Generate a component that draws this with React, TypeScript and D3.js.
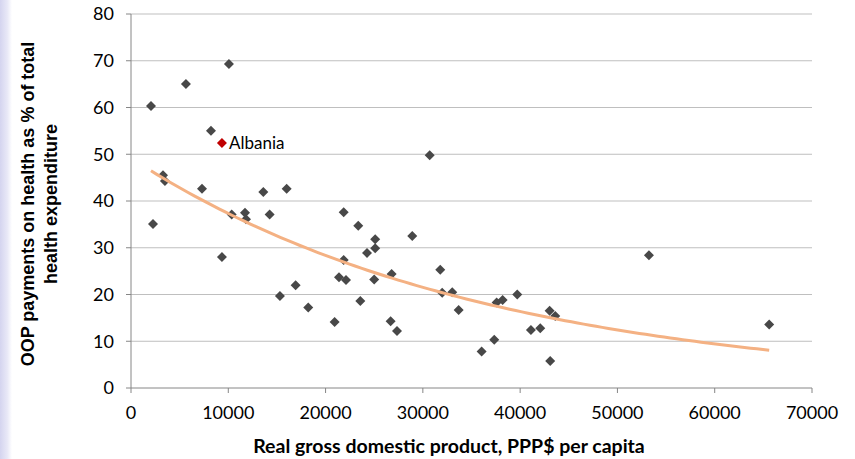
import React from "react";
import * as d3 from "d3";

const gdp: number[] = [
  2055, 5650, 10070, 8220, 3290, 3490, 2260, 7300, 10350, 11720, 11820, 13600,
  14250, 16000, 9350, 15310, 16920, 18220, 20930, 21860, 23360, 21860, 21380,
  22100, 25100, 25100, 24260, 23570, 25000, 26790, 26690, 27340, 28910, 30700,
  31790, 31990, 33020, 33680, 36040, 37340, 37580, 38200, 39700, 41110, 42070,
  43030, 43610, 43090, 53240, 65600,
];
const oop: number[] = [
  60.3, 65.0, 69.3, 55.0, 45.5, 44.3, 35.1, 42.6, 37.1, 37.5, 36.1, 41.9,
  37.1, 42.6, 28.0, 19.7, 22.0, 17.2, 14.1, 37.6, 34.7, 27.4, 23.7,
  23.1, 31.8, 29.9, 28.9, 18.6, 23.2, 24.4, 14.3, 12.2, 32.5, 49.8,
  25.3, 20.4, 20.5, 16.7, 7.8, 10.3, 18.3, 18.8, 20.0, 12.4, 12.8,
  16.5, 15.4, 5.8, 28.4, 13.6,
];
const highlightName = "Albania";
const highlightGdp = 9350;
const highlightOop = 52.4;

const xTicks = [0, 10000, 20000, 30000, 40000, 50000, 60000, 70000];
const yTicks = [0, 10, 20, 30, 40, 50, 60, 70, 80];
const xTitle = "Real gross domestic product, PPP$ per capita";
const yTitle1 = "OOP payments on health as % of total";
const yTitle2 = "health expenditure";

export default function App() {
  const W = 855, H = 459;
  const x = d3.scaleLinear().domain([0, 70000]).range([131, 812]);
  const y = d3.scaleLinear().domain([0, 80]).range([388, 14]);

  // exponential trendline (least squares on ln y), over all points incl. highlight
  const xs = [...gdp, highlightGdp];
  const ys = [...oop, highlightOop].map(Math.log);
  const mx = d3.mean(xs)!, my = d3.mean(ys)!;
  let sxy = 0, sxx = 0;
  xs.forEach((v, i) => { sxy += (v - mx) * (ys[i] - my); sxx += (v - mx) ** 2; });
  const b = sxy / sxx;
  const a = Math.exp(my - b * mx);
  const [xmin, xmax] = d3.extent(xs) as [number, number];
  const trendPts = d3.range(0, 101).map(i => {
    const xv = xmin + (xmax - xmin) * i / 100;
    return [xv, a * Math.exp(b * xv)] as [number, number];
  });
  const line = d3.line<[number, number]>().x(d => x(d[0])).y(d => y(d[1]));
  const diamond = d3.symbol().type(d3.symbolSquare).size(50)();

  const tickFont = "Lato, 'Open Sans', sans-serif";
  return (
    <svg width={W} height={H} style={{ position: "absolute", left: 0, top: 0 }}>
      <defs>
        <linearGradient id="lg" x1="0" x2="1" y1="0" y2="0">
          <stop offset="0" stopColor="#d4d4ef" />
          <stop offset="0.6" stopColor="#e8e8f7" />
          <stop offset="1" stopColor="#ffffff" />
        </linearGradient>
      </defs>
      <rect x={0} y={0} width={W} height={H} fill="#fff" />
      <rect x={0} y={0} width={12} height={H} fill="url(#lg)" />
      {yTicks.map(t => (
        <g key={"y" + t}>
          {t > 0 && <line x1={131} x2={812} y1={y(t)} y2={y(t)} stroke="#bfbfbf" strokeWidth={1} />}
          <line x1={126} x2={131} y1={y(t)} y2={y(t)} stroke="#868686" />
          <text x={114} y={y(t)} dy="0.35em" textAnchor="end" fontFamily={tickFont} fontSize={18} fill="#000">{t}</text>
        </g>
      ))}
      <line x1={131} x2={131} y1={y(80)} y2={y(0)} stroke="#868686" />
      <line x1={131} x2={812} y1={y(0)} y2={y(0)} stroke="#868686" />
      {xTicks.map(t => (
        <g key={"x" + t}>
          <line x1={x(t)} x2={x(t)} y1={388} y2={393} stroke="#868686" />
          <text x={x(t)} y={413} dy="0.35em" textAnchor="middle" fontFamily={tickFont} fontSize={18} fill="#000">{t}</text>
        </g>
      ))}
      {gdp.map((g, i) => (
        <path key={"p" + i} d={diamond} transform={`translate(${x(g)},${y(oop[i])}) rotate(45)`} fill="#484848" />
      ))}
      <path d={diamond} transform={`translate(${x(highlightGdp)},${y(highlightOop)}) rotate(45)`} fill="#c00000" />
      <text x={x(highlightGdp) + 7} y={y(highlightOop)} dy="0.35em" fontFamily={tickFont} fontSize={17} fill="#000">{highlightName}</text>
      <path d={line(trendPts)!} fill="none" stroke="#f4b183" strokeWidth={3} />
      <text x={449} y={446} dy="0.35em" textAnchor="middle" fontFamily={tickFont} fontWeight="bold" fontSize={19.5} fill="#000">{xTitle}</text>
      <text transform="translate(34,204) rotate(-90)" textAnchor="middle" fontFamily="'Liberation Sans', Arial, sans-serif" fontWeight="bold" fontSize={18} fill="#000">{yTitle1}</text>
      <text transform="translate(57,204) rotate(-90)" textAnchor="middle" fontFamily="'Liberation Sans', Arial, sans-serif" fontWeight="bold" fontSize={18} fill="#000">{yTitle2}</text>
    </svg>
  );
}
